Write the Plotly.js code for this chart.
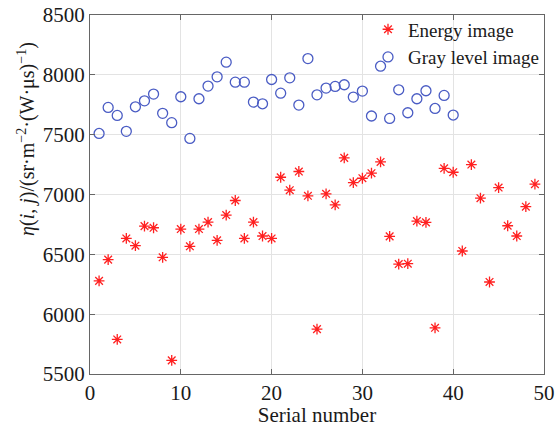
<!DOCTYPE html>
<html>
<head>
<meta charset="utf-8">
<script src="https://cdn.plot.ly/plotly-3.0.1.min.js"></script>
<style>html,body{margin:0;padding:0;background:#fff}#chart{width:555px;height:427px}</style>
</head>
<body>
<div id="chart"></div>
<script>
const energyX = [1,2,3,4,5,6,7,8,9,10,11,12,13,14,15,16,17,18,19,20,21,22,23,24,25,26,27,28,29,30,31,32,33,34,35,36,37,38,39,40,41,42,43,44,45,46,47,48,49];
const energyY = [6278,6456,5789,6633,6572,6736,6722,6475,5614,6711,6567,6711,6769,6617,6828,6950,6633,6769,6653,6633,7144,7036,7192,6989,5875,7006,6914,7306,7100,7136,7178,7272,6650,6419,6422,6778,6767,5886,7219,7186,6528,7250,6969,6269,7058,6739,6653,6898,7086];
const grayX = [1,2,3,4,5,6,7,8,9,10,11,12,13,14,15,16,17,18,19,20,21,22,23,24,25,26,27,28,29,30,31,32,33,34,35,36,37,38,39,40];
const grayY = [7510,7728,7661,7528,7733,7783,7839,7678,7600,7817,7469,7800,7906,7983,8106,7939,7939,7772,7758,7961,7847,7975,7747,8136,7833,7889,7903,7917,7814,7864,7656,8072,7636,7875,7683,7800,7867,7719,7828,7664];
const xTicks = [0,10,20,30,40,50];
const yTicks = [5500,6000,6500,7000,7500,8000,8500];
const yTitle = '<i>η</i>(<i>i</i>, <i>j</i>)/(sr·m<sup>−2</sup>·(W·μs)<sup>−1</sup>)';

const fam = 'Liberation Serif, Times New Roman, serif';
const font = {family: fam, color: '#1a1a1a', size: 21};

const traces = [
  {x: energyX, y: energyY, name: 'Energy image', mode: 'markers', type: 'scatter',
   marker: {symbol: 'asterisk-open', size: 9, color: '#ff2020', line: {color: '#ff2020', width: 1.3}}},
  {x: grayX, y: grayY, name: 'Gray level image', mode: 'markers', type: 'scatter',
   marker: {symbol: 'circle-open', size: 10, color: '#4a5cc4', line: {color: '#4a5cc4', width: 1.3}}}
];

const axisCommon = {
  showline: true, mirror: 'ticks', linecolor: '#666', linewidth: 1,
  ticks: 'inside', ticklen: 5, tickcolor: '#666',
  showgrid: true, gridcolor: '#e3e3e3', gridwidth: 1, zeroline: false,
  tickfont: {family: fam, color: '#1a1a1a', size: 21}
};

const layout = {
  width: 555, height: 427,
  margin: {l: 90, r: 11, t: 14, b: 53},
  paper_bgcolor: '#fff', plot_bgcolor: '#fff',
  font: font,
  showlegend: true,
  legend: {x: 1.0, y: 1.01, xanchor: 'right', yanchor: 'top', bgcolor: 'rgba(0,0,0,0)',
           font: {family: fam, color: '#1a1a1a', size: 19}, itemwidth: 30, tracegroupgap: 0},
  xaxis: Object.assign({}, axisCommon, {range: [0, 50], tickvals: xTicks,
    title: {text: 'Serial number', font: font, standoff: 0}}),
  yaxis: Object.assign({}, axisCommon, {range: [5500, 8500], tickvals: yTicks}),
  annotations: [{
    text: yTitle, xref: 'paper', yref: 'paper', x: -0.14, y: 0.656,
    xanchor: 'center', yanchor: 'middle', textangle: -90, showarrow: false,
    font: {family: fam, color: '#1a1a1a', size: 20}
  }]
};

Plotly.newPlot('chart', traces, layout, {displayModeBar: false, staticPlot: true});
</script>
</body>
</html>
